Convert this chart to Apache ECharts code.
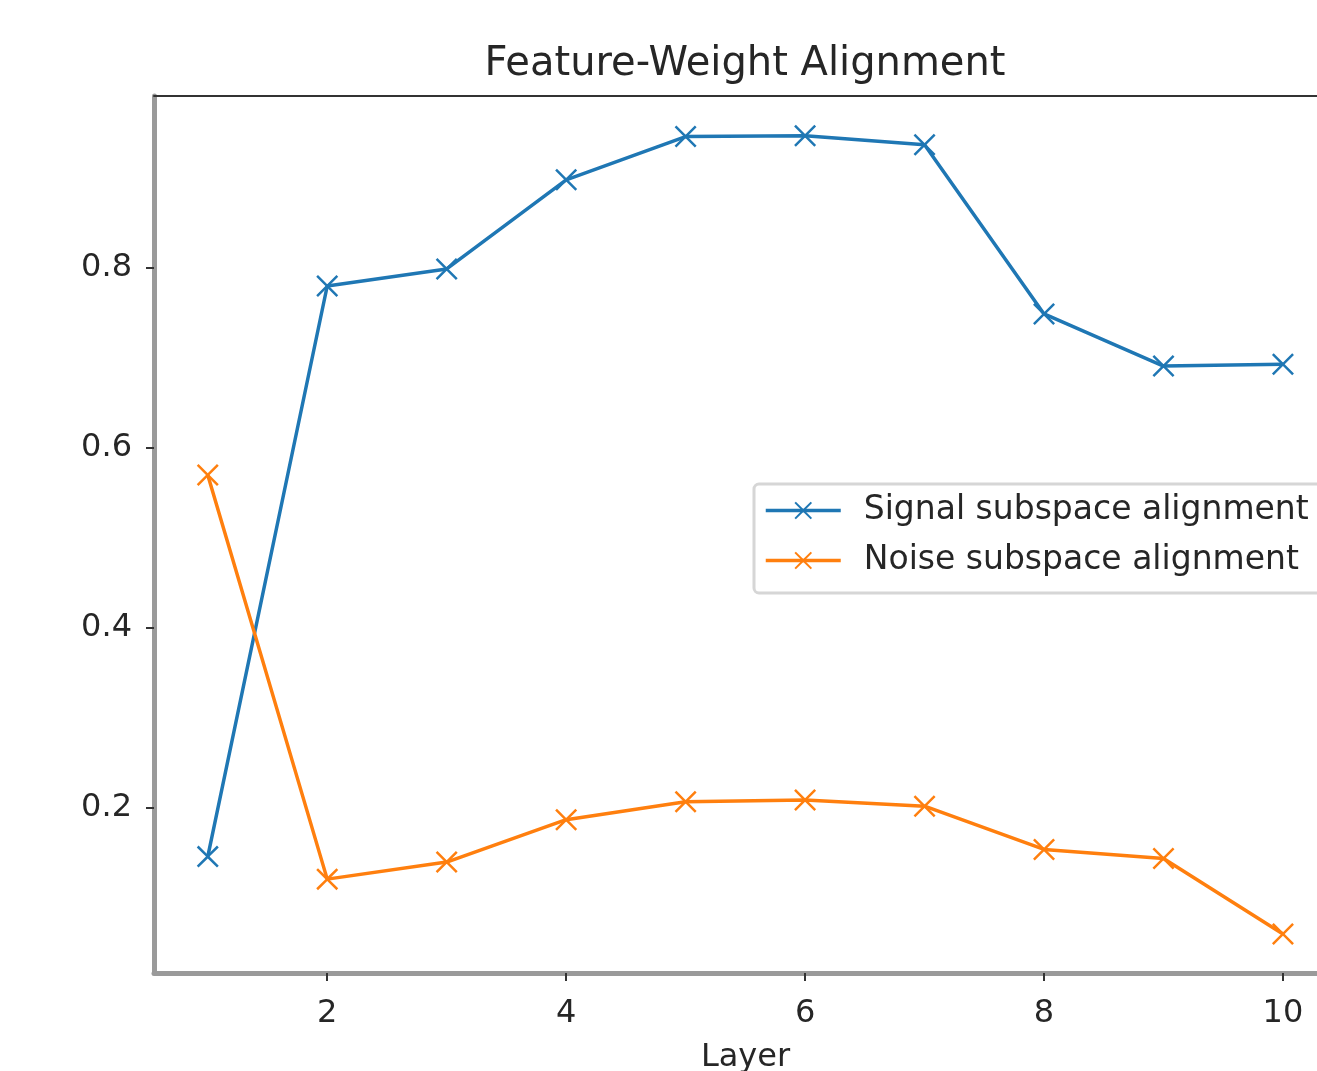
<!DOCTYPE html>
<html>
<head>
<meta charset="utf-8">
<script src="https://cdn.jsdelivr.net/npm/echarts@6/dist/echarts.min.js"></script>
<style>
  html, body { margin: 0; padding: 0; background: #fff; }
  #container { width: 1317px; height: 1071px; }
</style>
</head>
<body>
<div id="container"></div>
<script>
const container = document.getElementById('container');
const chartIns = echarts.init(container);

// data
const layers = [1, 2, 3, 4, 5, 6, 7, 8, 9, 10];
const signalAlign = [0.146, 0.780, 0.799, 0.898, 0.946, 0.947, 0.937, 0.749, 0.691, 0.693];
const noiseAlign = [0.570, 0.121, 0.140, 0.187, 0.207, 0.209, 0.202, 0.154, 0.144, 0.060];
const xTicks = [2, 4, 6, 8, 10];
const yTicks = [0.2, 0.4, 0.6, 0.8];
const seriesNames = ['Signal subspace alignment', 'Noise subspace alignment'];

const FONT = 'DejaVu Sans';
const colors = ['#1f77b4', '#ff7f0e'];
// matplotlib 'x' marker
const xMarker = 'path://M0,1.6L1.6,0L10,8.4L18.4,0L20,1.6L11.6,10L20,18.4L18.4,20L10,11.6L1.6,20L0,18.4L8.4,10Z';

const makeSeries = (name, values, color) => ({
  name: name,
  type: 'line',
  data: layers.map((l, i) => [l, values[i]]),
  symbol: xMarker,
  symbolSize: 22,
  showSymbol: true,
  lineStyle: { color: color, width: 3.5 },
  itemStyle: { color: color },
  emphasis: { disabled: true },
  animation: false
});

// the figure is cut at the right edge, so the x range stops at 10.285 instead of 10.45
const option = {
  backgroundColor: '#fff',
  title: {
    text: 'Feature-Weight Alignment',
    left: 745,
    top: 45,
    padding: 0,
    textAlign: 'center',
    textStyle: { fontFamily: FONT, fontSize: 40, fontWeight: 'normal', color: '#262626' }
  },
  legend: {
    orient: 'vertical',
    left: 754,
    top: 484,
    padding: [10, 40, 16, 10],
    itemWidth: 75,
    itemHeight: 22,
    itemGap: 17,
    backgroundColor: '#fff',
    borderColor: '#d6d6d6',
    borderWidth: 3,
    borderRadius: 5,
    lineStyle: { width: 3.5 },
    textStyle: { fontFamily: FONT, fontSize: 33, color: '#262626', padding: [0, 0, 0, 18], lineHeight: 32 },
    data: seriesNames
  },
  grid: { left: 154, top: 96, right: 0, height: 877, containLabel: false, outerBoundsMode: 'none' },
  xAxis: [{
    type: 'value',
    min: 0.55,
    max: 10.285,
    name: 'Layer',
    nameLocation: 'middle',
    nameGap: 69,
    // the full axis is centred at 745, past the cut edge
    nameTextStyle: { fontFamily: FONT, fontSize: 32, color: '#262626', padding: [0, 0, 0, 20] },
    axisLine: { show: true, lineStyle: { color: '#9a9a9a', width: 5 } },
    axisTick: { show: true, length: 8, lineStyle: { color: '#333', width: 2 }, customValues: xTicks },
    axisLabel: { fontFamily: FONT, fontSize: 32, color: '#262626', margin: 25, customValues: xTicks },
    splitLine: { show: false }
  }, {
    type: 'value',
    position: 'top',
    min: 0.55,
    max: 10.285,
    axisLine: { show: true, lineStyle: { color: '#333', width: 2 } },
    axisTick: { show: false },
    axisLabel: { show: false },
    splitLine: { show: false }
  }],
  yAxis: {
    type: 'value',
    min: 0.0167,
    max: 0.9911,
    axisLine: { show: true, lineStyle: { color: '#9a9a9a', width: 5 } },
    axisTick: { show: true, length: 8, lineStyle: { color: '#333', width: 2 }, customValues: yTicks },
    axisLabel: {
      fontFamily: FONT, fontSize: 32, color: '#262626', margin: 22,
      customValues: yTicks,
      formatter: v => v.toFixed(1)
    },
    splitLine: { show: false }
  },
  series: [
    makeSeries(seriesNames[0], signalAlign, colors[0]),
    makeSeries(seriesNames[1], noiseAlign, colors[1])
  ]
};

chartIns.setOption(option);
</script>
</body>
</html>
